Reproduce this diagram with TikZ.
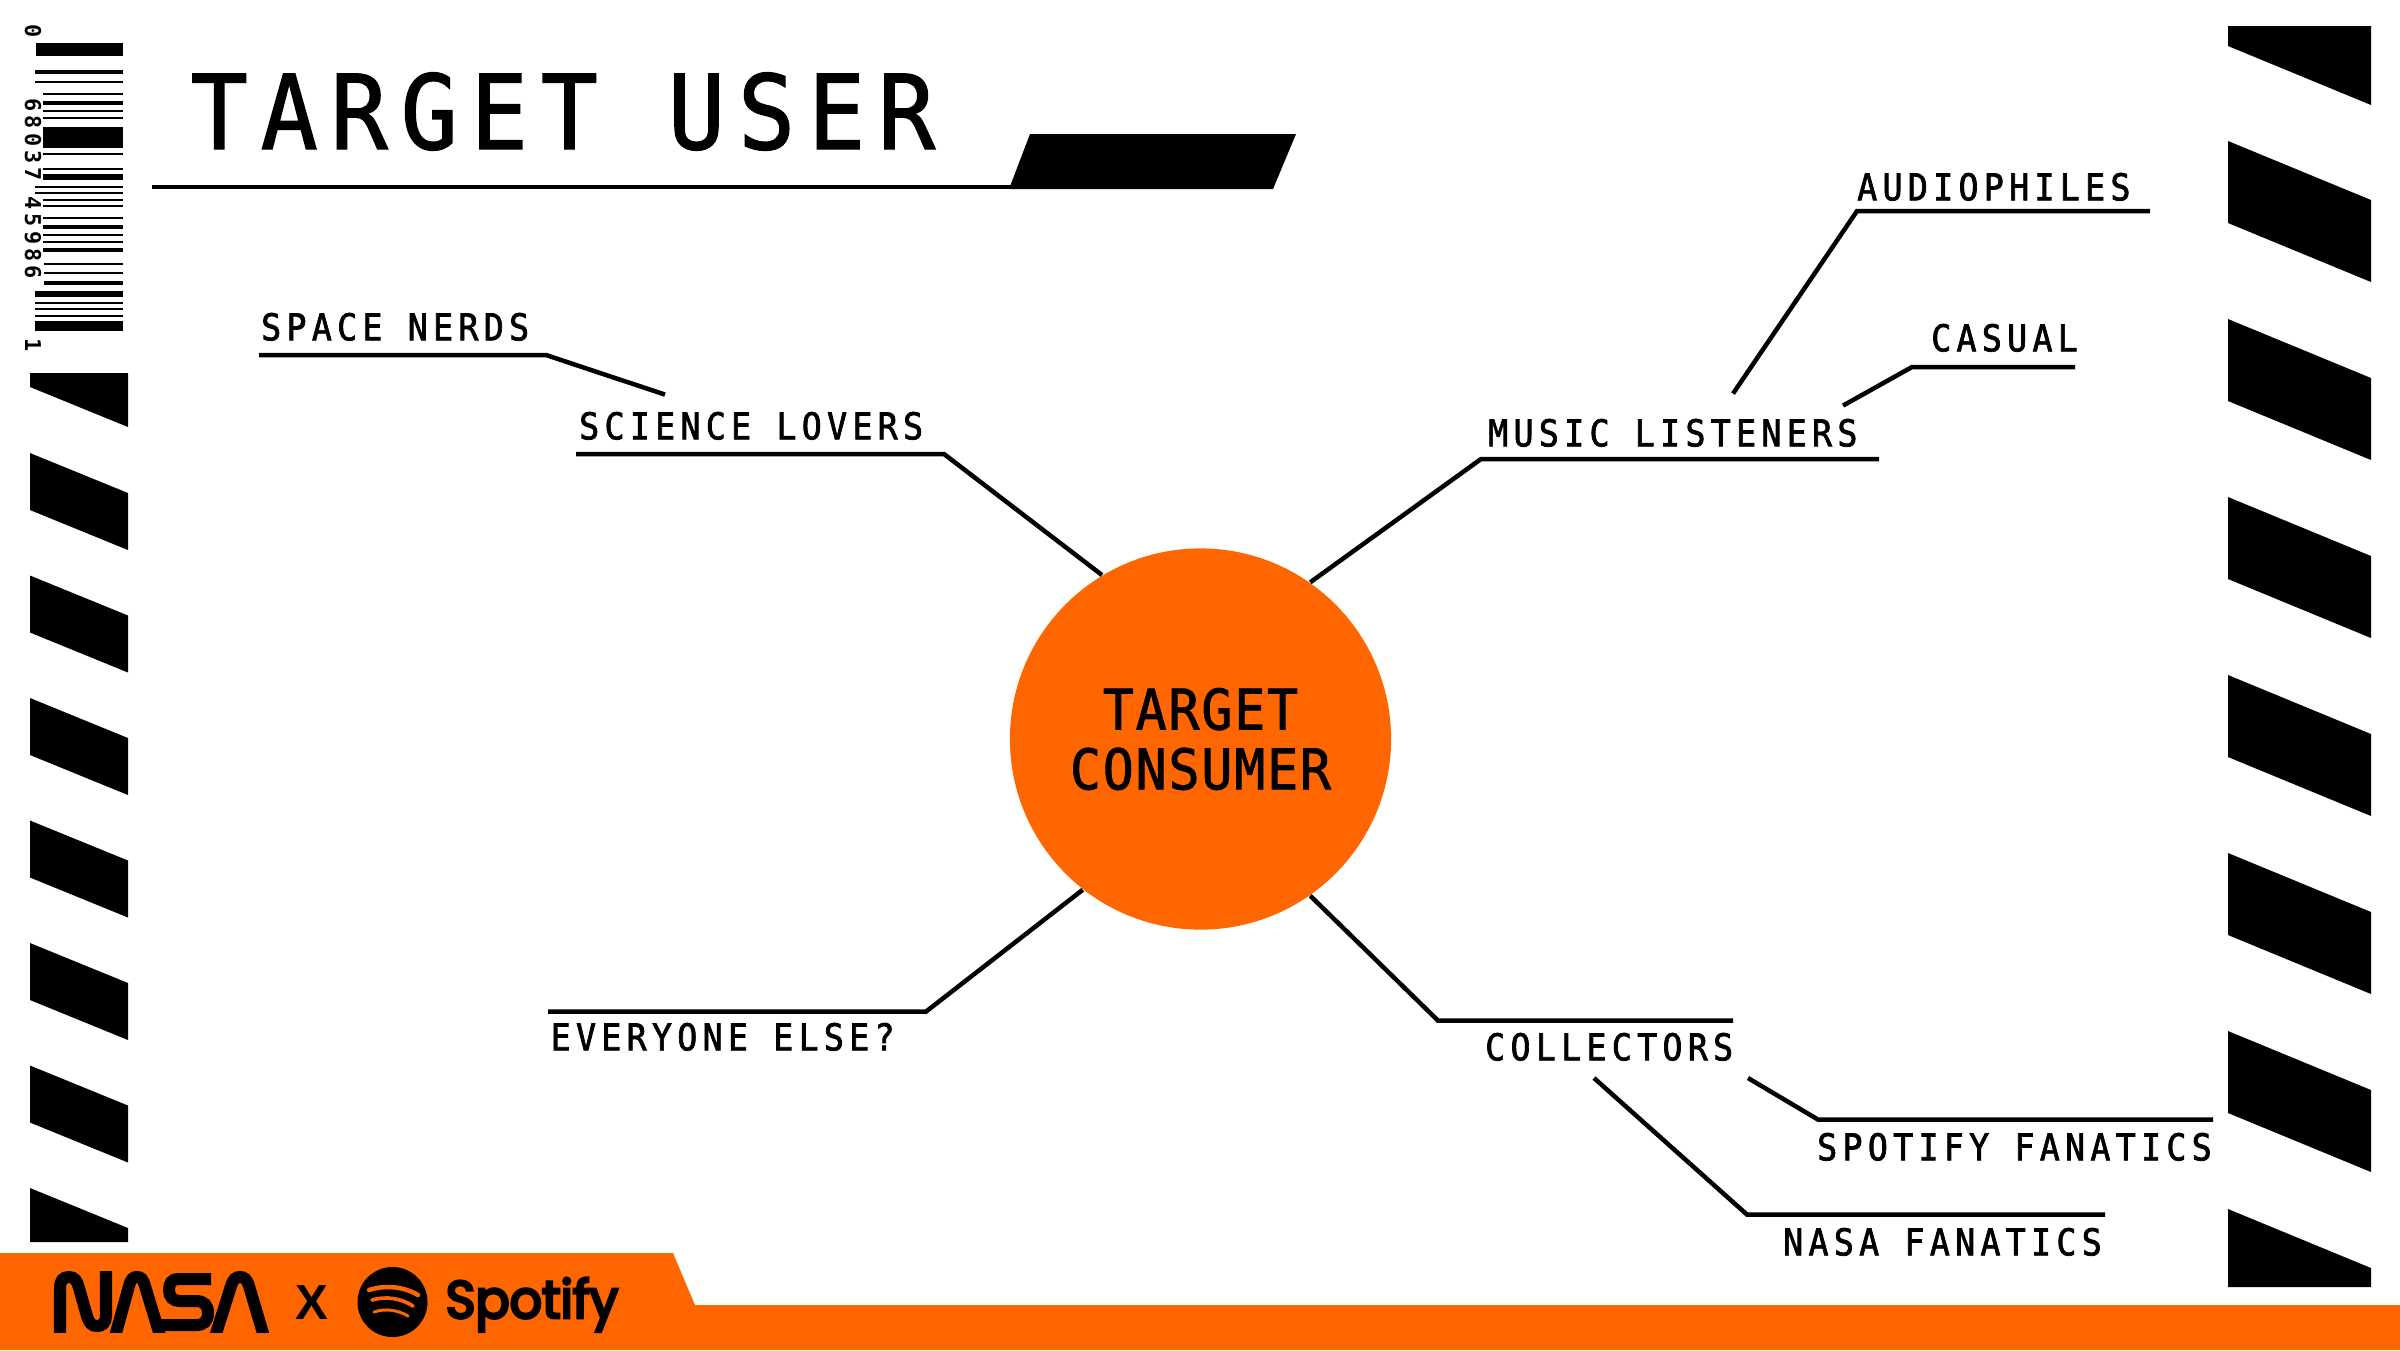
\documentclass[tikz,border=0pt]{standalone}
\usepackage{fontspec}
\newfontfamily\tagfont[LetterSpace=14.4,FakeStretch=0.9]{DejaVu Sans Mono}
\newfontfamily\titlefont[LetterSpace=12.6,FakeStretch=0.92]{DejaVu Sans Mono}
\newfontfamily\hubfont[LetterSpace=3.4,FakeStretch=0.92]{DejaVu Sans Mono}
\newfontfamily\codefont[LetterSpace=19]{DejaVu Sans Mono}
\newfontfamily\crossfont{Liberation Sans}
\newfontfamily\brandfont[FakeStretch=0.96]{Poppins}
\definecolor{signal}{HTML}{FF6600}
% text drawn a little heavier than the face gives
\newcommand{\inked}[2]{\special{pdf:code q 2 Tr #1 w 0 0 0 RG}#2\special{pdf:code Q}}
\tikzset{
	tag/.style={inner sep=0pt,text height=0.27cm,text depth=0pt,anchor=south west,font=\tagfont\fontsize{10.5}{12}\selectfont},
	digits/.style={inner sep=0pt,rotate=-90,font=\codefont\bfseries\fontsize{6.2}{7}\selectfont},
	leader/.style={line width=0.045cm,black},
	worm/.style={line width=0.12cm,black},
	groove/.style={signal,line cap=round}
}
\begin{document}
\begin{tikzpicture}[x=0.01cm,y=-0.01cm]
		\useasboundingbox (0,0) rectangle (2400,1350);
		% barcode
		\foreach \top/\thick/\start in {43/13/36,70/4/35,81/2/35,93/2/43,101/4/43,110/2/43,117/2/43,127/21/43,153/2/43,168/2/43,174/6/43,186/2/35,192/2/35,199/2/43,205/2/43,217/2/43,225/4/43,234/2/43,241/2/43,248/4/43,263/2/44,272/2/44,281/4/44,291/6/35,302/2/35,308/2/35,315/2/35,321/10/35}
			\fill (\start,\top) rectangle (123,\top+\thick);
		\node[digits] (codea) at (33,31) {0};
		\node[digits,anchor=west] (codeb) at (33,98) {68037};
		\node[digits,anchor=west] (codec) at (33,196) {45986};
		\node[digits] (coded) at (33,345) {1};
		% stripes
		\fill (30,373) -- (128,373) -- (128,427) -- (30,387) -- cycle;
		\foreach \y in {453,575.5,698,820.5,943,1065.5}
			\fill (30,\y) -- (128,\y+40) -- (128,\y+97) -- (30,\y+57) -- cycle;
		\fill (30,1188) -- (128,1228) -- (128,1242) -- (30,1242) -- cycle;
		\fill (2228,26) -- (2371,26) -- (2371,105) -- (2228,46) -- cycle;
		\foreach \y in {141,319,497,675,853,1031}
			\fill (2228,\y) -- (2371,\y+59) -- (2371,\y+141) -- (2228,\y+82) -- cycle;
		\fill (2228,1209) -- (2371,1268) -- (2371,1287) -- (2228,1287) -- cycle;
		% heading
		\node[inner sep=0pt,anchor=base west,font=\titlefont\fontsize{29.3}{32}\selectfont] (heading) at (190,149) {\inked{0.4}{TARGET USER}};
		\draw[leader] (152,187) -- (1012,187);
		\fill (1030,134) -- (1296,134) -- (1273,189) -- (1009,189) -- cycle;
		% footer
		\fill[signal] (0,1253) -- (673,1253) -- (695,1305) -- (2400,1305) -- (2400,1350) -- (0,1350) -- cycle;
		\begin{scope}
			\clip (50,1265) rectangle (275,1332);
			\draw[worm] (60,1340) -- (60,1289) .. controls (60,1280) and (63,1277) .. (69,1277) .. controls (75,1277) and (77,1281) .. (79,1288) -- (87,1316) .. controls (89,1323) and (92,1326) .. (97,1326) .. controls (102,1326) and (106,1323) .. (106,1316) -- (106,1271);
			\draw[worm] (114,1340) -- (129,1286) .. controls (131,1279) and (133,1277) .. (137,1277) .. controls (141,1277) and (143,1279) .. (145,1286) -- (161.4,1340);
			\draw[worm] (211,1279) -- (178,1279) .. controls (172,1279) and (169,1283) .. (169,1290) .. controls (169,1297) and (173,1301) .. (180,1301) -- (196,1301) .. controls (204,1301) and (208,1305) .. (208,1313) .. controls (208,1321) and (204,1325) .. (196,1325) -- (153,1325);
			\draw[worm] (214,1340) -- (231,1286) .. controls (233,1279) and (236,1277) .. (240,1277) .. controls (244,1277) and (247,1279) .. (249,1286) -- (265,1340);
		\end{scope}
		\node[inner sep=0pt,anchor=base,font=\crossfont\bfseries\fontsize{14}{16}\selectfont] (cross) at (312,1319) {X};
		\node[circle,fill=black,minimum size=0.70cm,inner sep=0pt] (disc) at (392.5,1302) {};
		\draw[groove,line width=0.045cm] (369,1290) .. controls (384,1285) and (403,1286) .. (418,1295);
		\draw[groove,line width=0.037cm] (372,1300) .. controls (385,1296) and (401,1298) .. (413,1306);
		\draw[groove,line width=0.03cm] (374,1312) .. controls (385,1308) and (398,1310) .. (408,1316);
		\node[inner sep=0pt,anchor=base west,font=\brandfont\fontsize{15}{17}\selectfont] (brand) at (445,1318) {\inked{0.8}{Spotify}};
		% hub and its branches
		\node[circle,fill=signal,minimum size=3.81cm,inner sep=0pt,align=center,font=\hubfont\fontsize{15.9}{17}\selectfont] (hub) at (1200.5,739) {\inked{0.25}{TARGET}\\\inked{0.25}{CONSUMER}};
		\node[tag] (space) at (260.5,341) {\inked{0.2}{SPACE NERDS}};
		\node[tag] (science) at (578.5,440) {\inked{0.2}{SCIENCE LOVERS}};
		\node[tag] (music) at (1487.5,447) {\inked{0.2}{MUSIC LISTENERS}};
		\node[tag] (audio) at (1856.5,201) {\inked{0.2}{AUDIOPHILES}};
		\node[tag] (casual) at (1930.5,352) {\inked{0.2}{CASUAL}};
		\node[tag] (collect) at (1484.5,1061) {\inked{0.2}{COLLECTORS}};
		\node[tag] (spotify) at (1816.5,1161) {\inked{0.2}{SPOTIFY FANATICS}};
		\node[tag] (nasa) at (1782.5,1256) {\inked{0.2}{NASA FANATICS}};
		\node[tag] (everyone) at (550,1051) {\inked{0.2}{EVERYONE ELSE?}};
		\draw[leader] ([shift={(-1.5,14)}]space.south west) -- ([shift={(285.5,14)}]space.south west) -- ([shift={(86.5,-17)}]science.north west);
		\draw[leader] ([shift={(-2.5,14)}]science.south west) -- ([shift={(365.5,14)}]science.south west) -- (hub.121.6);
		\draw[leader] ([shift={(391.5,12)}]music.south west) -- ([shift={(-6.5,12)}]music.south west) -- (hub.55.3);
		\draw[leader] ([shift={(293.5,10)}]audio.south west) -- ([shift={(0.5,10)}]audio.south west) -- ([shift={(245.5,-25)}]music.north west);
		\draw[leader] ([shift={(144.5,15)}]casual.south west) -- ([shift={(-18.5,15)}]casual.south west) -- ([shift={(355.5,-13)}]music.north west);
		\draw[leader] ([shift={(248.5,-12)}]collect.north west) -- ([shift={(-46.5,-12)}]collect.north west) -- (hub.305.4);
		\draw[leader] ([shift={(396.5,-13)}]spotify.north west) -- ([shift={(1.5,-13)}]spotify.north west) -- ([shift={(263.5,17)}]collect.south west);
		\draw[leader] ([shift={(322.5,-13)}]nasa.north west) -- ([shift={(-35.5,-13)}]nasa.north west) -- ([shift={(109.5,17)}]collect.south west);
		\draw[leader] ([shift={(-2,-11)}]everyone.north west) -- ([shift={(376,-11)}]everyone.north west) -- (hub.232.6);
\end{tikzpicture}
\end{document}
